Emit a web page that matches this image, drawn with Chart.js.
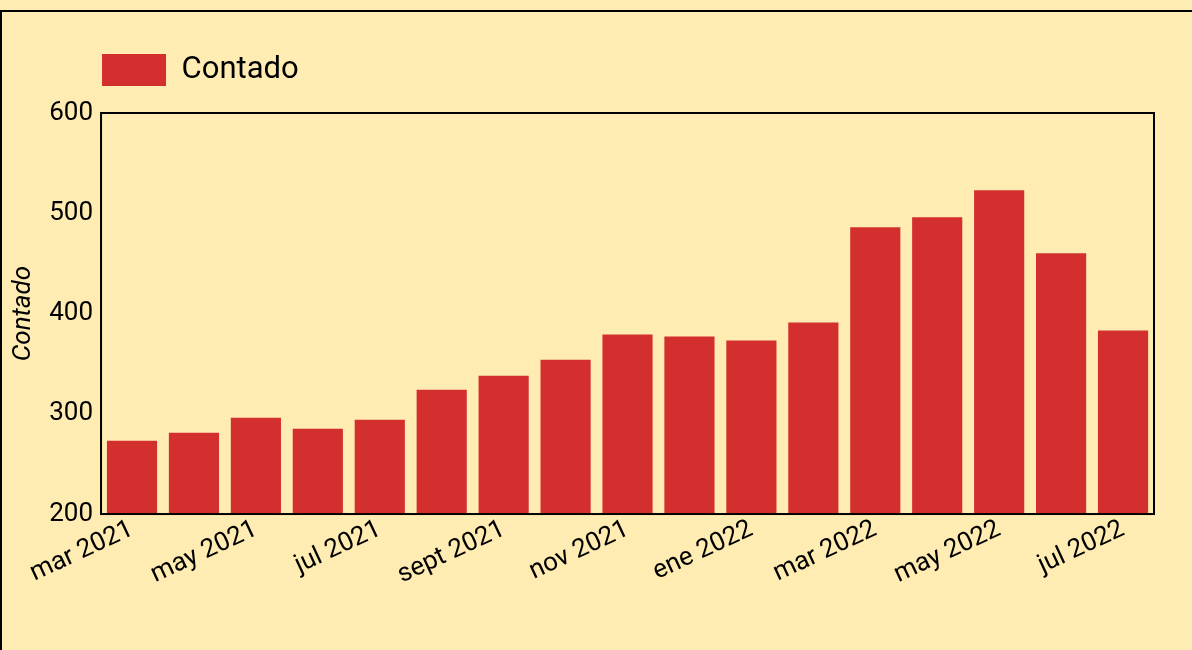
<!DOCTYPE html>
<html>
<head>
<meta charset="utf-8">
<script src="https://cdn.jsdelivr.net/npm/chart.js@4"></script>
<style>
  html, body { margin: 0; padding: 0; background: #ffecb3; overflow: hidden; }
  #frame {
    position: absolute; left: 0; top: 10px;
    width: 1400px; height: 800px;
    border-left: 2px solid #000; border-top: 2px solid #000;
  }
  #wrap { position: absolute; left: 0; top: 0; width: 1190px; height: 640px; }
</style>
</head>
<body>
<div id="frame">
  <div id="wrap"><canvas id="myBarChart"></canvas></div>
</div>
<script>
// months shown on the x axis (Spanish short names)
var months = ['mar 2021', 'abr 2021', 'may 2021', 'jun 2021', 'jul 2021', 'ago 2021',
  'sept 2021', 'oct 2021', 'nov 2021', 'dic 2021', 'ene 2022', 'feb 2022',
  'mar 2022', 'abr 2022', 'may 2022', 'jun 2022', 'jul 2022'];

// monthly counts
var contado = [273, 281, 296, 285, 294, 324, 338, 354, 379, 377, 373, 391,
  486, 496, 523, 460, 383];

var yTicks = [200, 300, 400, 500, 600];

document.addEventListener('DOMContentLoaded', function () {
  var ctx = document.getElementById('myBarChart').getContext('2d');

  // draws the black box round the plot area and moves the legend over it
  var frameBox = {
    id: 'frameBox',
    afterLayout: function (chart) {
      var pad = chart.legend.options.labels.padding;
      chart.legend.left = chart.chartArea.left + 1 - pad;
      chart.legend.top -= 17;
    },
    afterDraw: function (chart) {
      var a = chart.chartArea;
      var c = chart.ctx;
      c.save();
      c.strokeStyle = '#000';
      c.lineWidth = 2;
      c.strokeRect(a.left, a.top, a.right - a.left, a.bottom - a.top);
      c.restore();
    }
  };

  new Chart(ctx, {
    type: 'bar',
    data: {
      labels: months,
      datasets: [{
        label: 'Contado',
        data: contado,
        backgroundColor: '#d32f2f',
        barPercentage: 0.9,
        categoryPercentage: 0.9
      }]
    },
    options: {
      responsive: true,
      maintainAspectRatio: false,
      animation: false,
      layout: { padding: { top: 31, left: 2, right: 38, bottom: 61 } },
      plugins: {
        legend: {
          position: 'top',
          align: 'start',
          labels: {
            boxWidth: 64,
            boxHeight: 32,
            padding: 28,
            color: '#000',
            font: { family: 'Roboto', size: 31 }
          }
        },
        tooltip: { enabled: false }
      },
      scales: {
        x: {
          grid: { display: false, drawTicks: false },
          border: { display: false },
          ticks: {
            autoSkip: false,
            minRotation: 25,
            maxRotation: 25,
            padding: 0,
            color: '#000',
            font: { family: 'Roboto', size: 26 },
            callback: function (value, index) {
              return index % 2 === 0 ? months[index] : '';
            }
          }
        },
        y: {
          min: yTicks[0],
          max: yTicks[yTicks.length - 1],
          grid: { display: false, drawTicks: false },
          border: { display: false },
          afterBuildTicks: function (axis) {
            axis.ticks = yTicks.map(function (v) { return { value: v }; });
          },
          ticks: {
            padding: 8,
            color: '#000',
            font: { family: 'Roboto', size: 26 }
          },
          title: {
            display: true,
            text: 'Contado',
            color: '#000',
            padding: { top: 4, bottom: 2 },
            font: { family: 'Roboto', size: 26, style: 'italic' }
          }
        }
      }
    },
    plugins: [frameBox]
  });
});
</script>
</body>
</html>
